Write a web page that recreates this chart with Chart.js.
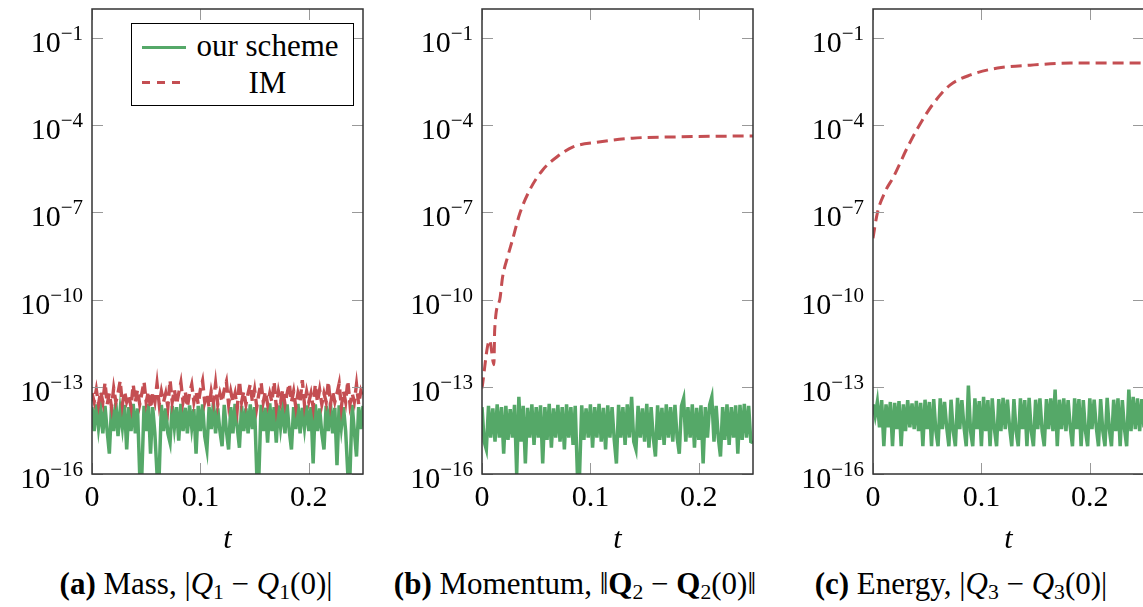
<!DOCTYPE html>
<html>
<head>
<meta charset="utf-8">
<script src="https://cdn.jsdelivr.net/npm/chart.js@4.4.1/dist/chart.umd.min.js"></script>
<style>
  html, body { margin: 0; padding: 0; background: #fff; }
  body { width: 1143px; height: 607px; overflow: hidden; position: relative; font-family: "Liberation Serif", serif; color: #000; }
  canvas { position: absolute; top: 0; }
  .legend { position: absolute; left: 131px; top: 23px; width: 221px; height: 81px; border: 1.5px solid #000; background: #fff; font-size: 31px; }
  .legend .sample { position: absolute; left: 10px; width: 44px; height: 3px; }
  .legend .label { position: absolute; left: 62px; width: 147px; text-align: center; line-height: 31px; white-space: nowrap; }
  .cap { position: absolute; top: 566px; font-size: 31px; line-height: 36px; white-space: nowrap; transform: translateX(-50%); }
  .cap sub { font-size: 0.7em; vertical-align: -0.25em; line-height: 0; }
</style>
</head>
<body>
<canvas id="massChart" width="380" height="560" style="left:0px"></canvas>
<canvas id="momChart" width="380" height="560" style="left:390px"></canvas>
<canvas id="energyChart" width="380" height="560" style="left:781px"></canvas>
<div class="legend" id="legend"></div>
<div class="cap" style="left:196px"><b>(a)</b> Mass, |<i>Q</i><sub>1</sub> − <i>Q</i><sub>1</sub>(0)|</div>
<div class="cap" style="left:575px"><b>(b)</b> Momentum, ‖<b>Q</b><sub>2</sub> − <b>Q</b><sub>2</sub>(0)‖</div>
<div class="cap" style="left:961px"><b>(c)</b> Energy, |<i>Q</i><sub>3</sub> − <i>Q</i><sub>3</sub>(0)|</div>
<script>
// series names / colours
const seriesNames = ['our scheme', 'IM'];
const green = '#55a868';
const red = '#c44e52';

// axis ticks
const xTicks = [0, 0.1, 0.2];
const xTickLabels = ['0', '0.1', '0.2'];
const yTicks = [1e-1, 1e-4, 1e-7, 1e-10, 1e-13, 1e-16];
const yTickExps = ['−1', '−4', '−7', '−10', '−13', '−16'];

// time samples of the noisy error curves
const tNoise = [
  0,0.002,0.004,0.006,0.008,0.01,0.012,0.014,0.016,0.018,
  0.02,0.022,0.024,0.026,0.028,0.03,0.032,0.034,0.036,0.038,
  0.04,0.042,0.044,0.046,0.048,0.05,0.052,0.054,0.056,0.058,
  0.06,0.062,0.064,0.066,0.068,0.07,0.072,0.074,0.076,0.078,
  0.08,0.082,0.084,0.086,0.088,0.09,0.092,0.094,0.096,0.098,
  0.1,0.102,0.104,0.106,0.108,0.11,0.112,0.114,0.116,0.118,
  0.12,0.122,0.124,0.126,0.128,0.13,0.132,0.134,0.136,0.138,
  0.14,0.142,0.144,0.146,0.148,0.15,0.152,0.154,0.156,0.158,
  0.16,0.162,0.164,0.166,0.168,0.17,0.172,0.174,0.176,0.178,
  0.18,0.182,0.184,0.186,0.188,0.19,0.192,0.194,0.196,0.198,
  0.2,0.202,0.204,0.206,0.208,0.21,0.212,0.214,0.216,0.218,
  0.22,0.222,0.224,0.226,0.228,0.23,0.232,0.234,0.236,0.238,
  0.24,0.242,0.244,0.246,0.248,0.25
];

// (a) mass
const massOurs = [
  2e-14,3e-15,2.5e-14,4e-15,1.8e-14,2.5e-15,2.2e-14,3e-15,5e-16,2e-14,
  3e-15,2.8e-14,2e-15,1.6e-14,4e-15,2.4e-14,7e-16,2e-14,3e-15,2.6e-14,
  2.5e-15,1.8e-14,1e-16,1e-16,2.2e-14,3e-15,2.6e-14,5e-16,2e-14,2.5e-15,
  1e-16,1e-16,2.4e-14,3e-15,1.8e-14,2.5e-15,1.2e-15,2.2e-14,4e-15,2e-14,
  1.4e-15,2.6e-14,3e-15,1.9e-14,2.5e-15,2.3e-14,4e-15,1.7e-14,5e-16,2.2e-14,
  3e-15,2.5e-14,2e-15,7e-16,2e-14,3.5e-15,2.8e-14,2.5e-15,1.8e-14,3e-15,
  9e-16,2.4e-14,3e-15,7e-16,2e-14,2.5e-15,2.6e-14,4e-15,8e-16,2.2e-14,
  3e-15,1.8e-14,2.5e-15,2.5e-14,3.5e-15,2e-14,1e-16,1e-16,2.4e-14,3e-15,
  1.9e-14,1.2e-15,2.7e-14,3e-15,2e-14,1.2e-15,2.3e-14,4e-15,1.8e-14,2.5e-15,
  2.5e-14,3e-15,7e-16,2e-14,3.5e-15,2.6e-14,2.5e-15,1.9e-14,4e-15,2.3e-14,
  3e-15,2e-14,2.3e-16,2.5e-14,3e-15,1.8e-14,2.5e-15,7e-16,2.2e-14,3e-15,
  2.6e-14,2.5e-15,1.9e-14,2e-16,2.3e-14,4e-15,2e-14,3e-15,1e-16,1e-16,
  2.4e-14,3e-15,4e-16,2e-14,3.5e-15,2.2e-14
];
const massIM = [
  6e-14,3e-14,8e-14,2.5e-14,7e-14,3e-14,1.4e-13,2.5e-14,6e-14,2e-14,
  9e-14,3e-14,6e-14,1.6e-13,2.5e-14,7e-14,3e-14,5e-14,2e-14,1.2e-13,
  3e-14,8e-14,2.5e-14,6e-14,1.5e-13,3e-14,7e-14,1.8e-14,6e-14,3e-14,
  1.3e-13,2.5e-14,7e-14,3e-14,6e-14,2e-14,1.7e-13,3e-14,8e-14,2.5e-14,
  6e-14,1.4e-13,3e-14,7e-14,2e-14,6e-14,1.2e-13,3e-14,7e-14,2.5e-14,
  8e-14,1.6e-13,3e-14,6e-14,2e-14,7e-14,3e-14,1.3e-13,2.5e-14,6e-14,
  3e-14,8e-14,1.5e-13,2.5e-14,7e-14,3e-14,6e-14,1.8e-14,1.6e-13,3e-14,
  7e-14,2.5e-14,6e-14,1.2e-13,3e-14,8e-14,2e-14,6e-14,1.4e-13,3e-14,
  7e-14,2.5e-14,6e-14,3e-14,1.5e-13,2e-14,7e-14,3e-14,8e-14,2.5e-14,
  6e-14,1.3e-13,3e-14,7e-14,2e-14,6e-14,3e-14,1.7e-13,2.5e-14,7e-14,
  3e-14,6e-14,2e-14,1.2e-13,3e-14,8e-14,2.5e-14,6e-14,3e-14,1.5e-13,
  2.5e-14,7e-14,3e-14,6e-14,1.3e-13,2e-14,7e-14,3e-14,1.6e-13,2.5e-14,
  6e-14,3e-14,1.2e-13,2.5e-14,7e-14,4e-14
];

// (b) momentum
const momOurs = [
  2e-14,1.3e-15,7e-16,2.2e-14,1.8e-15,1.8e-14,1.3e-15,2.5e-14,1.8e-15,2e-14,
  5e-16,2.2e-14,1.5e-15,1.7e-14,1.8e-15,2.4e-14,1e-16,4.5e-14,1.3e-15,2.2e-14,
  2.3e-16,1.9e-14,1.8e-15,2.5e-14,1e-15,2e-14,1.8e-15,2.3e-14,2.3e-16,2e-14,
  1.5e-15,2.6e-14,8e-16,1.8e-14,1.8e-15,2.4e-14,1.3e-15,2e-14,7e-16,2.5e-14,
  1.8e-15,2e-14,1e-15,2.2e-14,1e-16,1e-16,2.3e-14,1.5e-15,1.8e-14,1.8e-15,
  2.5e-14,8e-16,2e-14,1.8e-15,2.6e-14,1.3e-15,1.9e-14,7e-16,2.3e-14,1.8e-15,
  2e-14,1.5e-15,2.3e-16,2.4e-14,1.8e-15,2e-14,1e-15,2.5e-14,1.8e-15,4.5e-14,
  1.3e-15,7e-16,2.2e-14,1.8e-15,1.8e-14,1.3e-15,2.6e-14,8e-16,2e-14,1.8e-15,
  4e-16,2.3e-14,1.5e-15,1.9e-14,1e-15,2.5e-14,1.8e-15,2e-14,1.3e-15,2.4e-14,
  1.8e-15,5e-16,2.2e-14,4e-14,1.3e-15,2e-14,1.8e-15,2.5e-14,8e-16,1.9e-14,
  1.5e-15,2.3e-14,2.3e-16,2e-14,1.8e-15,2.4e-14,4.5e-14,1.3e-15,2.2e-14,1.8e-15,
  4e-16,2e-14,1.5e-15,2.5e-14,1e-15,2e-14,1.8e-15,2.3e-14,5e-16,2.4e-14,
  1.5e-15,2.6e-14,1.8e-15,2.2e-14,1.3e-15,1.2e-15
];
const tMomIM = [0, 0.007, 0.011, 0.0117, 0.0164, 0.019, 0.0237, 0.028, 0.035, 0.044, 0.056, 0.069, 0.084, 0.106, 0.139, 0.182, 0.25];
const momIM = [9e-14, 4e-12, 5.8e-13, 9e-12, 1e-10, 6e-10, 3e-9, 1.1e-8, 9.5e-8, 5.9e-7, 2.9e-6, 8.1e-6, 1.8e-5, 2.6e-5, 3.6e-5, 4e-5, 4.3e-5];

// (c) energy
const energyOurs = [
  2.5e-14,1e-14,3e-14,4e-15,3.5e-14,9e-16,2.5e-14,4e-15,3e-14,9e-16,
  2.8e-14,3.5e-15,3.2e-14,9e-16,2.5e-14,3e-15,3.5e-14,4e-15,2.7e-14,3.5e-15,
  3.3e-14,3e-15,2.8e-14,9e-16,3.6e-14,3.5e-15,3e-14,9e-16,3.8e-14,3e-15,
  9e-16,4e-14,3.5e-15,3e-14,4e-15,9e-16,3.6e-14,3e-15,9e-16,4.2e-14,
  3.5e-15,3.5e-14,4e-15,9e-16,1.1e-13,3e-15,9e-16,4e-14,3.5e-15,3.2e-14,
  9e-16,4.5e-14,3e-15,3.5e-14,9e-16,4e-14,3.5e-15,9e-16,3.8e-14,3e-15,
  4.2e-14,3.5e-15,3.6e-14,4e-15,9e-16,3.8e-14,3e-15,9e-16,4e-14,3.5e-15,
  3.5e-14,9e-16,4.2e-14,3e-15,9e-16,3.6e-14,3.5e-15,4e-14,3e-15,9e-16,
  3.8e-14,3.5e-15,4e-14,3e-15,8e-14,9e-16,3.6e-14,3.5e-15,4e-14,3e-15,
  3.5e-14,4e-15,9e-16,4e-14,3.5e-15,3.8e-14,9e-16,3.5e-14,3e-15,9e-16,
  4e-14,3.5e-15,3.6e-14,4e-15,9e-16,3.8e-14,3e-15,9e-16,4.2e-14,3.5e-15,
  9e-16,3.6e-14,3e-15,4e-14,9e-16,3.5e-14,3.5e-15,9e-16,8e-14,3e-15,
  4.5e-14,3.5e-15,4e-14,3e-15,3.8e-14,4e-15
];
const tEnergyIM = [0, 0.004, 0.011, 0.019, 0.032, 0.044, 0.056, 0.071, 0.09, 0.115, 0.145, 0.182, 0.25];
const energyIM = [1.3e-8, 9.5e-8, 5e-7, 1.7e-6, 1.8e-5, 1.2e-4, 5.8e-4, 2.4e-3, 5.4e-3, 9.3e-3, 1.17e-2, 1.38e-2, 1.4e-2];

const serif = "'Liberation Serif', serif";
const tickLen = 11;

function pts(ts, vs) {
  return ts.map((t, i) => ({ x: t, y: vs[i] }));
}

// pgfplots style frame, inner ticks and 10^n labels
const frameTicks = {
  id: 'frameTicks',
  afterDatasetsDraw(chart) {
    const { ctx, chartArea: a, scales: { x, y } } = chart;
    ctx.save();
    ctx.strokeStyle = '#999';
    ctx.lineWidth = 1;
    ctx.beginPath();
    x.ticks.forEach(t => {
      const px = Math.round(x.getPixelForValue(t.value)) + 0.5;
      ctx.moveTo(px, a.top); ctx.lineTo(px, a.top + tickLen);
      ctx.moveTo(px, a.bottom); ctx.lineTo(px, a.bottom - tickLen);
    });
    y.ticks.forEach(t => {
      const py = Math.round(y.getPixelForValue(t.value)) + 0.5;
      ctx.moveTo(a.left, py); ctx.lineTo(a.left + tickLen, py);
      ctx.moveTo(a.right, py); ctx.lineTo(a.right - tickLen, py);
    });
    ctx.stroke();
    ctx.strokeStyle = '#333';
    ctx.lineWidth = 1.5;
    ctx.strokeRect(a.left, a.top, a.right - a.left, a.bottom - a.top);

    ctx.fillStyle = '#000';
    ctx.textBaseline = 'alphabetic';
    ctx.textAlign = 'left';
    const right = a.left - 9;
    y.ticks.forEach((t, i) => {
      const py = y.getPixelForValue(t.value);
      const exp = yTickExps[i];
      ctx.font = '21px ' + serif;
      const ew = ctx.measureText(exp).width;
      ctx.fillText(exp, right - ew, py + 2);
      ctx.font = '30px ' + serif;
      const bw = ctx.measureText('10').width;
      ctx.fillText('10', right - ew - bw, py + 14);
    });
    ctx.restore();
  }
};

function makePanel(id, datasets) {
  return new Chart(document.getElementById(id), {
    type: 'line',
    data: { datasets },
    options: {
      responsive: false,
      animation: false,
      layout: { padding: { top: 9, right: 17, left: 0, bottom: 0 } },
      plugins: { legend: { display: false }, tooltip: { enabled: false } },
      elements: { point: { radius: 0 } },
      scales: {
        x: {
          type: 'linear', min: 0, max: 0.25,
          afterBuildTicks: s => { s.ticks = xTicks.map(v => ({ value: v })); },
          afterFit: s => { s.height = 86; },
          grid: { display: false, drawTicks: false },
          border: { display: false },
          ticks: { padding: 6, color: '#000', font: { family: serif, size: 30 }, maxRotation: 0, callback: (v, i) => xTickLabels[i] },
          title: { display: true, text: 't', color: '#000', font: { family: serif, size: 30, style: 'italic' }, padding: { top: 0, bottom: 2 } }
        },
        y: {
          type: 'logarithmic', min: 1e-16, max: 1,
          afterBuildTicks: s => { s.ticks = yTicks.map(v => ({ value: v })); },
          afterFit: s => { s.width = 92; },
          grid: { display: false, drawTicks: false },
          border: { display: false },
          ticks: { display: false }
        }
      }
    },
    plugins: [frameTicks]
  });
}

function oursSet(vs) {
  return { label: seriesNames[0], data: pts(tNoise, vs), borderColor: green, borderWidth: 3.5, tension: 0, order: 2 };
}
function imSet(ts, vs, smooth) {
  return {
    label: seriesNames[1], data: pts(ts, vs), borderColor: red, borderWidth: smooth ? 3 : 3.4, borderDash: [11, 6],
    tension: 0, cubicInterpolationMode: smooth ? 'monotone' : 'default', order: 1
  };
}

makePanel('massChart', [oursSet(massOurs), imSet(tNoise, massIM, false)]);
makePanel('momChart', [oursSet(momOurs), imSet(tMomIM, momIM, true)]);
makePanel('energyChart', [oursSet(energyOurs), imSet(tEnergyIM, energyIM, true)]);

// legend box inside panel (a)
const legend = document.getElementById('legend');
const legendStyles = [
  'background:' + green,
  'background:repeating-linear-gradient(90deg,' + red + ' 0 8px, transparent 8px 15px)'
];
seriesNames.forEach((name, i) => {
  const top = i === 0 ? 22 : 57;
  const s = document.createElement('div');
  s.className = 'sample';
  s.style.cssText = 'top:' + top + 'px;' + legendStyles[i];
  legend.appendChild(s);
  const l = document.createElement('div');
  l.className = 'label';
  l.style.top = (i === 0 ? 6 : 43) + 'px';
  l.textContent = name;
  legend.appendChild(l);
});
</script>
</body>
</html>
